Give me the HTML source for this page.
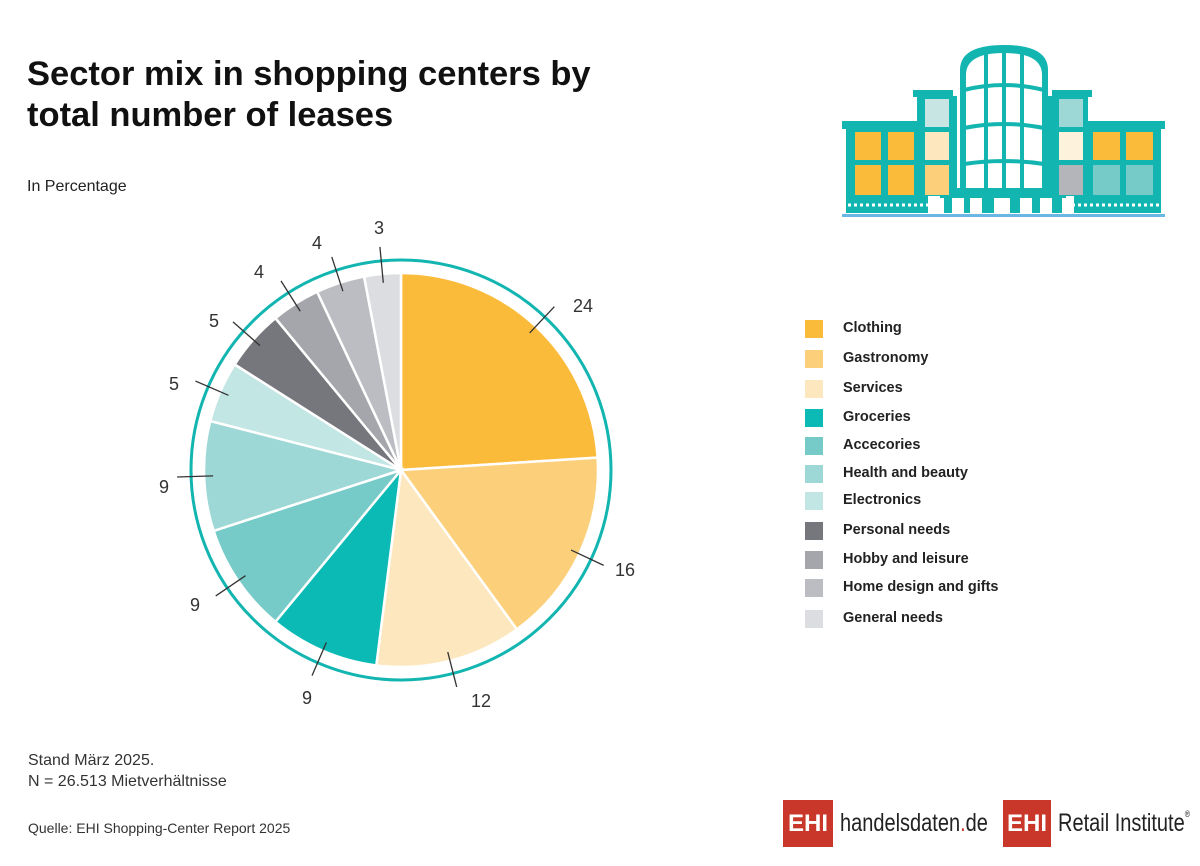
<!DOCTYPE html>
<html><head><meta charset="utf-8"><style>
body{margin:0;background:#fff;width:1200px;height:866px;overflow:hidden;font-family:"Liberation Sans",sans-serif;position:relative}
.t{position:absolute;left:27px;top:54px;font-size:34.5px;font-weight:bold;line-height:41px;color:#111;white-space:nowrap}
.a{position:absolute;color:#222;white-space:nowrap}
.lg{position:absolute;left:805px;width:18px;height:18px}
.lt{position:absolute;left:843px;font-size:14.5px;font-weight:bold;color:#222;white-space:nowrap}
.logo{position:absolute;top:800px;height:47px;background:#c8372a;color:#fff;font-weight:bold;font-size:24px;line-height:47px;text-align:center}
.lw{transform-origin:0 0;transform:scaleX(0.8)}
</style></head><body>
<div class="t">Sector mix in shopping centers by<br>total number of leases</div>
<div class="a" style="left:27px;top:178px;font-size:16px">In Percentage</div>
<div class="a" style="left:28px;top:750px;font-size:16px;line-height:21px;color:#333">Stand März 2025.<br>N = 26.513 Mietverhältnisse</div>
<div class="a" style="left:28px;top:820px;font-size:14px;color:#333">Quelle: EHI Shopping-Center Report 2025</div>
<svg id="pie" width="1200" height="866" style="position:absolute;left:0;top:0"></svg>
<div id="leg"></div>
<div class="logo" style="left:783px;width:50px">EHI</div>
<div class="a lw" style="left:840px;top:809px;font-size:25px;color:#222">handelsdaten<span style="color:#c8372a">.</span>de</div>
<div class="logo" style="left:1003px;width:48px">EHI</div>
<div class="a lw" style="left:1058px;top:809px;font-size:25px;color:#222">Retail Institute<sup style="font-size:9px;vertical-align:14px">®</sup></div>
<svg width="1200" height="866" style="position:absolute;left:0;top:0">
<g fill="#12b5b0">
<rect x="842" y="121" width="90" height="8"/><rect x="846" y="128" width="82" height="85"/>
<rect x="1072" y="121" width="93" height="8"/><rect x="1074" y="128" width="87" height="85"/>
<rect x="913" y="90" width="40" height="7"/><rect x="917" y="96" width="40" height="100"/>
<rect x="1052" y="90" width="40" height="7"/><rect x="1048" y="96" width="40" height="100"/>
<path d="M960 195 V70 Q960 45 1004 45 Q1048 45 1048 70 V195 Z"/>
<rect x="940" y="188" width="126" height="10"/><rect x="944" y="197" width="118" height="16"/>
</g>
<rect x="842" y="214" width="323" height="3" fill="#6ab7e3"/>
<g fill="#fbbb3a"><rect x="855" y="132" width="26" height="28"/><rect x="888" y="132" width="26" height="28"/><rect x="855" y="165" width="26" height="30"/><rect x="888" y="165" width="26" height="30"/><rect x="1093" y="132" width="27" height="28"/><rect x="1126" y="132" width="27" height="28"/></g>
<rect x="925" y="99" width="24" height="28" fill="#c6e5e3"/><rect x="925" y="132" width="24" height="28" fill="#fde7bf"/><rect x="925" y="165" width="24" height="30" fill="#fcd07a"/>
<rect x="1059" y="99" width="24" height="28" fill="#9ed8d6"/><rect x="1059" y="132" width="24" height="28" fill="#fdf2dc"/><rect x="1059" y="165" width="24" height="30" fill="#b4b5ba"/>
<rect x="1093" y="165" width="27" height="30" fill="#76cbc8"/><rect x="1126" y="165" width="27" height="30" fill="#76cbc8"/>
<g fill="#fff"><path d="M966 75 Q966 53 1004 53 Q1042 53 1042 75 V188 H966Z"/></g>
<g stroke="#12b5b0" stroke-width="4" fill="none"><path d="M986 53 V188 M1004 50 V188 M1022 53 V188 M964 90 Q1004 80 1044 90 M964 128 Q1004 120 1044 128 M964 164 Q1004 158 1044 164"/></g>
<g fill="#fff"><rect x="952" y="198" width="12" height="15"/><rect x="970" y="198" width="12" height="15"/><rect x="994" y="198" width="16" height="15"/><rect x="1020" y="198" width="12" height="15"/><rect x="1040" y="198" width="12" height="15"/></g>
<line x1="848" y1="205" x2="935" y2="205" stroke="#fff" stroke-width="3" stroke-dasharray="3 3"/>
<line x1="1072" y1="205" x2="1160" y2="205" stroke="#fff" stroke-width="3" stroke-dasharray="3 3"/>
</svg>
<script>
var d=[[24,"#fbbb3a","Clothing",583,306],[16,"#fcd07a","Gastronomy",625,570],[12,"#fde7bf","Services",481,701],[9,"#0bbab5","Groceries",307,698],[9,"#76cbc8","Accecories",195,605],[9,"#9ed8d6","Health and beauty",164,487],[5,"#c2e6e4","Electronics",174,384],[5,"#76777c","Personal needs",214,321],[4,"#a5a6ab","Hobby and leisure",259,272],[4,"#bcbdc2","Home design and gifts",317,243],[3,"#dcdde0","General needs",379,228]];
var ly=[329,359,389,418,446,474,501,531,560,588,619];
var cx=401,cy=470,r=197,s='<circle cx="401" cy="470" r="210" fill="none" stroke="#12b5b0" stroke-width="3"/>',a=0,h='';
function p(ang,rr){return[cx+rr*Math.sin(ang),cy-rr*Math.cos(ang)]}
d.forEach(function(e,i){var a0=a*Math.PI/50,a1=(a+e[0])*Math.PI/50,m=(a0+a1)/2;a+=e[0];
var P=p(a0,r),Q=p(a1,r);s+='<path d="M'+cx+' '+cy+'L'+P[0]+' '+P[1]+'A'+r+' '+r+' 0 '+(a1-a0>Math.PI?1:0)+' 1 '+Q[0]+' '+Q[1]+'Z" fill="'+e[1]+'" stroke="#fff" stroke-width="2.5"/>';
var L1=p(m,188),L2=p(m,224);s+='<line x1="'+L1[0]+'" y1="'+L1[1]+'" x2="'+L2[0]+'" y2="'+L2[1]+'" stroke="#333" stroke-width="1.3"/>';
s+='<text x="'+e[3]+'" y="'+(e[4]+6)+'" text-anchor="middle" font-family="Liberation Sans" font-size="18" fill="#333">'+e[0]+'</text>';
h+='<div class="lg" style="top:'+(ly[i]-9)+'px;background:'+e[1]+'"></div><div class="lt" style="top:'+(ly[i]-9)+'px">'+e[2]+'</div>';});
document.getElementById('pie').innerHTML=s;document.getElementById('leg').innerHTML=h;
</script>
</body></html>
